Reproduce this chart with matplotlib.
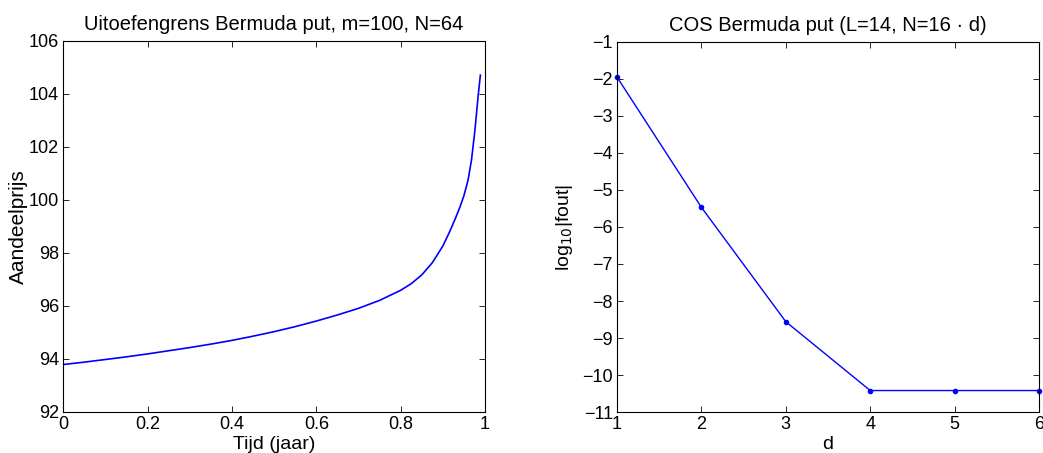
import matplotlib
matplotlib.use("Agg")
import matplotlib.pyplot as plt

plt.rcParams['font.family'] = ['Liberation Sans', 'DejaVu Sans']

# Left panel: exercise boundary
tijd = [0.0, 0.05, 0.1, 0.15, 0.2, 0.25, 0.3, 0.35, 0.4, 0.45, 0.5, 0.55,
        0.6, 0.65, 0.7, 0.75, 0.8, 0.825, 0.85, 0.875, 0.9, 0.915, 0.93,
        0.941, 0.95, 0.96, 0.968, 0.976, 0.984, 0.989]
prijs = [93.78, 93.87, 93.97, 94.07, 94.18, 94.30, 94.42, 94.55, 94.69, 94.85,
         95.02, 95.21, 95.42, 95.65, 95.90, 96.20, 96.58, 96.83, 97.16, 97.62,
         98.25, 98.75, 99.30, 99.74, 100.15, 100.75, 101.5, 102.6, 103.95, 104.7]

# Right panel: error convergence
d_vals = [1, 2, 3, 4, 5, 6]
log_fout = [-1.95, -5.47, -8.56, -10.42, -10.42, -10.42]

fig = plt.figure(figsize=(10.43, 4.53), dpi=100)
ax1 = fig.add_axes([0.0607, 0.0912, 0.4043, 0.8190])
ax2 = fig.add_axes([0.5916, 0.0905, 0.4046, 0.8168])

tick_fs = 13
for ax in (ax1, ax2):
    ax.tick_params(direction='in', top=True, right=True, length=4,
                   labelsize=tick_fs, width=0.6, pad=3)
    for s in ax.spines.values():
        s.set_linewidth(0.8)

ax1.plot(tijd, prijs, color='#0000ff', lw=1.2)
ax1.set_xlim(0, 1)
ax1.set_ylim(92, 106)
ax1.set_xticks([0, 0.2, 0.4, 0.6, 0.8, 1])
ax1.set_xticklabels(['0', '0.2', '0.4', '0.6', '0.8', '1'])
ax1.set_yticks(range(92, 107, 2))
ax1.set_title('Uitoefengrens Bermuda put, m=100, N=64', fontsize=14.5, pad=8)
ax1.set_xlabel('Tijd (jaar)', fontsize=14, labelpad=2)
ax1.set_ylabel('Aandeelprijs', fontsize=15, labelpad=1)

ax2.plot(d_vals, log_fout, color='#0000ff', lw=1.0, marker='.', markersize=6,
         clip_on=False)
ax2.set_xlim(1, 6)
ax2.set_ylim(-11, -1)
ax2.set_xticks(d_vals)
ax2.set_yticks(range(-11, 0))
ax2.set_yticklabels(['\u221211', '\u221210', '\u22129', '\u22128', '\u22127', '\u22126',
                     '\u22125', '\u22124', '\u22123', '\u22122', '\u22121'])
ax2.set_title('COS Bermuda put (L=14, N=16 \u00b7 d)', fontsize=14.5, pad=8)
ax2.set_xlabel('d', fontsize=14, labelpad=2)
ax2.set_ylabel('log$_{10}$|fout|', fontsize=14, labelpad=5)

fig.savefig('out.png', dpi=100)
